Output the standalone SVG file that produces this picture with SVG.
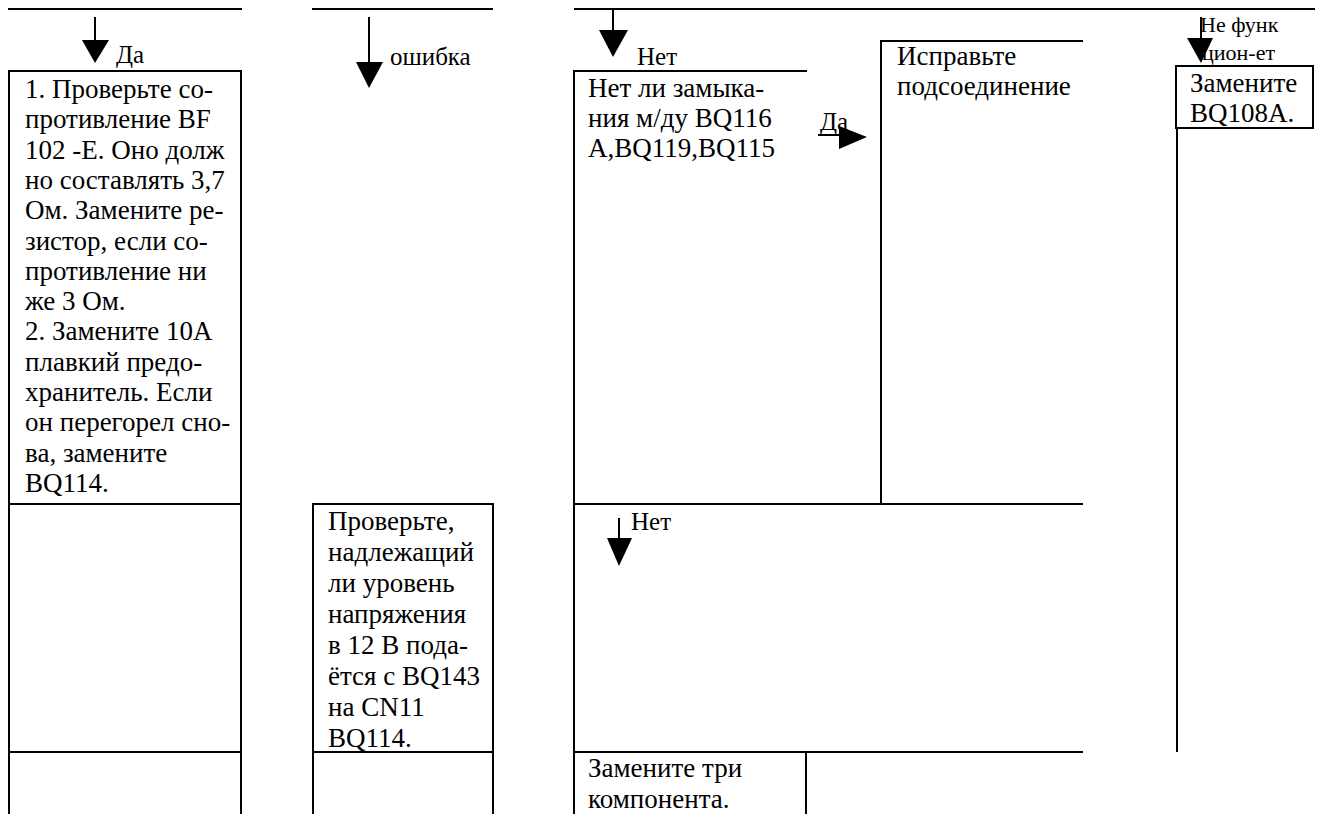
<svg xmlns="http://www.w3.org/2000/svg" width="1321" height="814" viewBox="0 0 1321 814">
<style>
.ln{fill:none;stroke:#000;stroke-width:2}
.ar{fill:#000;stroke:none}
.t{font-size:27px}
.lb{font-size:25px}
.sm{font-size:22px}
</style>
<rect width="1321" height="814" fill="#fff"/>
<g id="top-lines">
<path class="ln" d="M8 9H242M312 9H493M574 9H1315"/>
</g>
<g id="node-check-resistance">
<rect class="ln" x="9" y="71" width="232" height="433"/>
<text class="t" font-family="Liberation Serif, Times New Roman, serif">
<tspan x="25" y="98">1. Проверьте со-</tspan>
<tspan x="25" y="128.3">противление BF</tspan>
<tspan x="25" y="158.6">102 -Е. Оно долж</tspan>
<tspan x="25" y="188.9">но составлять 3,7</tspan>
<tspan x="25" y="219.2">Ом. Замените ре-</tspan>
<tspan x="25" y="249.5">зистор, если со-</tspan>
<tspan x="25" y="279.8">противление ни</tspan>
<tspan x="25" y="310.1">же 3 Ом.</tspan>
<tspan x="25" y="340.4">2. Замените 10А</tspan>
<tspan x="25" y="370.7">плавкий предо-</tspan>
<tspan x="25" y="401">хранитель. Если</tspan>
<tspan x="25" y="431.3">он перегорел сно-</tspan>
<tspan x="25" y="461.6">ва, замените</tspan>
<tspan x="25" y="492">BQ114.</tspan>
</text>
</g>
<g id="node-left-empty">
<path class="ln" d="M9 504V814M241 504V814M9 752H241"/>
</g>
<g id="node-check-voltage">
<rect class="ln" x="313" y="504" width="180" height="248"/>
<text class="t" font-family="Liberation Serif, Times New Roman, serif">
<tspan x="328" y="530">Проверьте,</tspan>
<tspan x="328" y="561">надлежащий</tspan>
<tspan x="328" y="592">ли уровень</tspan>
<tspan x="328" y="623">напряжения</tspan>
<tspan x="328" y="654">в 12 В пода-</tspan>
<tspan x="328" y="685">ётся с BQ143</tspan>
<tspan x="328" y="716">на CN11</tspan>
<tspan x="328" y="747">BQ114.</tspan>
</text>
</g>
<g id="node-mid-empty">
<path class="ln" d="M313 752V814M493 752V814"/>
</g>
<g id="node-short-check">
<path class="ln" d="M807 71H574V504"/>
<text class="t" font-family="Liberation Serif, Times New Roman, serif">
<tspan x="588" y="97">Нет ли замыка-</tspan>
<tspan x="588" y="127">ния м/ду BQ116</tspan>
<tspan x="588" y="157">А,BQ119,BQ115</tspan>
</text>
</g>
<g id="node-fix-connection">
<path class="ln" d="M1083 41H881V504"/>
<text class="t" font-family="Liberation Serif, Times New Roman, serif">
<tspan x="897" y="65">Исправьте</tspan>
<tspan x="897" y="95">подсоединение</tspan>
</text>
</g>
<g id="node-lower-region">
<path class="ln" d="M574 504H1083M574 504V752M574 752H1083"/>
</g>
<g id="node-replace-three">
<path class="ln" d="M574 752V814M806 752V814"/>
<text class="t" font-family="Liberation Serif, Times New Roman, serif">
<tspan x="588" y="777">Замените три</tspan>
<tspan x="588" y="808">компонента.</tspan>
</text>
</g>
<g id="node-replace-bq108a">
<rect class="ln" x="1176" y="66" width="137" height="62"/>
<text class="t" font-family="Liberation Serif, Times New Roman, serif">
<tspan x="1190" y="92">Замените</tspan>
<tspan x="1190" y="122">BQ108A.</tspan>
</text>
<path class="ln" d="M1177 128V752"/>
</g>
<g id="connectors">
<path class="ln" d="M95 17V41"/>
<polygon class="ar" points="82,40 109,40 95,63"/>
<text class="lb" x="116" y="63" font-family="Liberation Serif, Times New Roman, serif">Да</text>
<path class="ln" d="M369 17V63"/>
<polygon class="ar" points="356,62 383,62 369,88"/>
<text class="lb" x="390" y="65" font-family="Liberation Serif, Times New Roman, serif">ошибка</text>
<path class="ln" d="M613 9V31"/>
<polygon class="ar" points="599,30 628,30 613,57"/>
<text class="lb" x="637" y="65" font-family="Liberation Serif, Times New Roman, serif">Нет</text>
<text class="lb" x="820" y="130" font-family="Liberation Serif, Times New Roman, serif">Да</text>
<path class="ln" d="M818 135H840"/>
<polygon class="ar" points="839,126 839,149 867,137"/>
<path class="ln" d="M619 518V539"/>
<polygon class="ar" points="607,538 632,538 619,566"/>
<text class="lb" x="631" y="530" font-family="Liberation Serif, Times New Roman, serif">Нет</text>
<text class="sm" font-family="Liberation Serif, Times New Roman, serif">
<tspan x="1200" y="32">Не функ</tspan>
<tspan x="1202" y="60">цион-ет</tspan>
</text>
<path class="ln" d="M1201 17V39"/>
<polygon class="ar" points="1187,38 1213,38 1201,63"/>
</g>
</svg>
